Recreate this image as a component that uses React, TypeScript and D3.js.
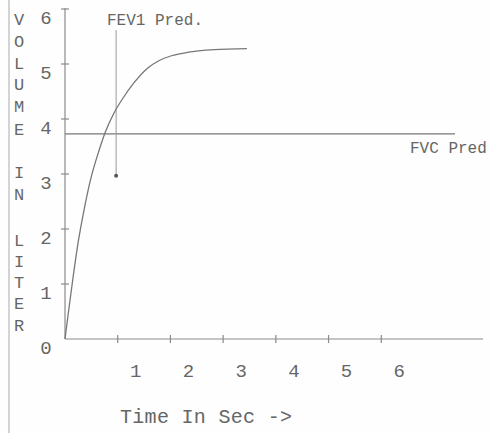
import React from "react";
import * as d3 from "d3";

const timeSec = [0, 0.06, 0.15, 0.25, 0.36, 0.47, 0.65, 0.76, 0.93, 1.08, 1.31, 1.56, 1.78, 2.02, 2.32, 2.83, 3.45];
const volumeL = [0, 0.45, 1.1, 1.76, 2.34, 2.84, 3.44, 3.75, 4.11, 4.35, 4.66, 4.92, 5.06, 5.15, 5.21, 5.26, 5.28];
const xTicks = [1, 2, 3, 4, 5, 6];
const yTicks = [0, 1, 2, 3, 4, 5, 6];
const fvcPred = 3.73;
const fev1PredTime = [0.97];
const fev1PredVolume = [2.97];
const yLetters = ["V", "O", "L", "U", "M", "E", "", "I", "N", "", "L", "I", "T", "E", "R"];
const yLetterPos = [20, 42, 64, 85, 107, 130, 0, 173, 195, 0, 241, 262, 283, 304, 326];

const W = 491;
const H = 433;
const font = "'Liberation Mono', 'Courier New', monospace";
const textColor = "#666";
const lineColor = "#8a8a8a";

export default function App() {
  const x = d3.scaleLinear().domain([0, 7.93]).range([65, 483]);
  const y = d3.scaleLinear().domain([0, 6]).range([339, 9]);
  const pts = timeSec.map((t, i) => [t, volumeL[i]] as [number, number]);
  const line = d3
    .line<[number, number]>()
    .x((d) => x(d[0]))
    .y((d) => y(d[1]))
    .curve(d3.curveMonotoneX);

  return (
    <svg
      width={W}
      height={H}
      style={{ position: "absolute", left: 0, top: 0, background: "#fff" }}
    >
      <rect x={0} y={0} width={W} height={H} fill="#fefefe" />
      {/* left border line */}
      <line x1={9} y1={0} x2={9} y2={H} stroke="#aaa" strokeWidth={1} />
      {/* y axis */}
      <line x1={x(0)} y1={y(6) - 1} x2={x(0)} y2={y(0)} stroke={lineColor} strokeWidth={1.2} />
      {yTicks.map((t) => (
        <g key={"yt" + t}>
          {t > 0 && (
            <line x1={x(0) - 4} x2={x(0) + 4} y1={y(t)} y2={y(t)} stroke={lineColor} strokeWidth={1.2} />
          )}
          <text
            x={46}
            y={y(t) + 10}
            fontFamily={font}
            fontSize={19}
            fill={textColor}
            textAnchor="middle"
            dominantBaseline="central"
          >
            {t}
          </text>
        </g>
      ))}
      {/* x axis */}
      <line x1={x(0)} y1={y(0)} x2={x(7.93)} y2={y(0)} stroke={lineColor} strokeWidth={1.2} />
      {xTicks.map((t) => (
        <g key={"xt" + t}>
          <line x1={x(t)} x2={x(t)} y1={y(0) - 4} y2={y(0) + 4} stroke={lineColor} strokeWidth={1.2} />
          <text
            x={x(t) + 18}
            y={372}
            fontFamily={font}
            fontSize={19}
            fill={textColor}
            textAnchor="middle"
            dominantBaseline="central"
          >
            {t}
          </text>
        </g>
      ))}
      <text x={120} y={417} fontFamily={font} fontSize={20} fill={textColor} dominantBaseline="central" textLength={172}>
        Time In Sec -&gt;
      </text>
      {/* y label letters */}
      {yLetters.map((c, i) =>
        c ? (
          <text
            key={"yl" + i}
            x={19}
            y={yLetterPos[i]}
            fontFamily={font}
            fontSize={17}
            fill={textColor}
            textAnchor="middle"
            dominantBaseline="central"
          >
            {c}
          </text>
        ) : null
      )}
      {/* FVC pred line */}
      <line x1={x(0)} x2={455} y1={y(fvcPred)} y2={y(fvcPred)} stroke="#777" strokeWidth={1.3} />
      <text x={410} y={149} fontFamily={font} fontSize={16} fill={textColor} dominantBaseline="central">
        FVC Pred
      </text>
      {/* FEV1 pred marker */}
      <line
        x1={x(fev1PredTime[0])}
        x2={x(fev1PredTime[0])}
        y1={30}
        y2={y(fev1PredVolume[0])}
        stroke="#999"
        strokeWidth={1}
      />
      <circle cx={x(fev1PredTime[0])} cy={y(fev1PredVolume[0])} r={2} fill="#555" />
      <text x={107} y={21} fontFamily={font} fontSize={16} fill={textColor} dominantBaseline="central">
        FEV1 Pred.
      </text>
      {/* curve */}
      <path d={line(pts) || ""} fill="none" stroke="#777" strokeWidth={1.3} />
    </svg>
  );
}
